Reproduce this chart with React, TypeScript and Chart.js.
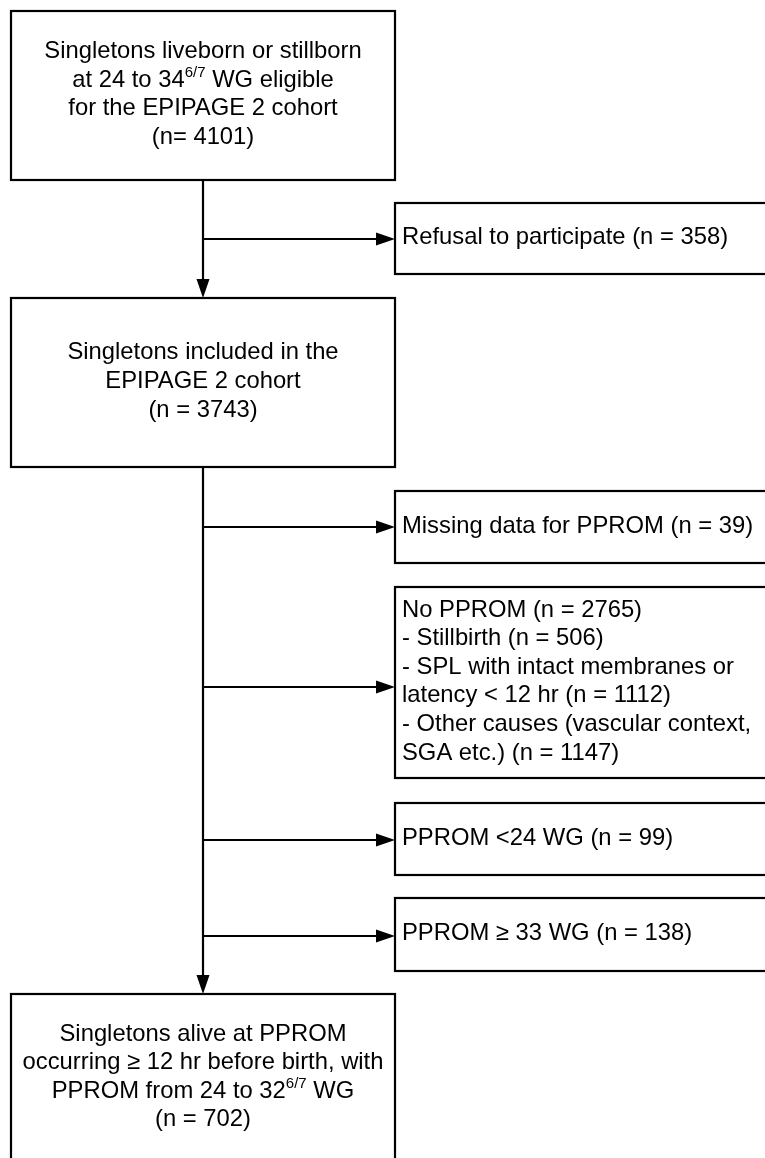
import React, { useEffect, useRef } from "react";
import { Chart, registerables } from "chart.js";

Chart.register(...registerables);

// Flowchart content (text lines per box; ^{..} marks superscript)
const BOX_TEXT: string[][] = [
  ["Singletons liveborn or stillborn", "at 24 to 34^{6/7} WG eligible", "for the EPIPAGE 2 cohort", "(n= 4101)"],
  ["Refusal to participate (n = 358)"],
  ["Singletons included in the", "EPIPAGE 2 cohort", "(n = 3743)"],
  ["Missing data for PPROM (n = 39)"],
  [
    "No PPROM (n = 2765)",
    "- Stillbirth (n = 506)",
    "- SPL with intact membranes or",
    "latency < 12 hr (n = 1112)",
    "- Other causes (vascular context,",
    "SGA etc.) (n = 1147)",
  ],
  ["PPROM <24 WG (n = 99)"],
  ["PPROM \u2265 33 WG (n = 138)"],
  ["Singletons alive at PPROM", "occurring \u2265 12 hr before birth, with", "PPROM from 24 to 32^{6/7} WG", "(n = 702)"],
];
const BOX_ALIGN = ["center", "left", "center", "left", "left", "left", "left", "center"];
// box extents in chart units (x: 0..765, y: 0..1158 top-down)
const BOX_LEFT = [11, 395, 11, 395, 395, 395, 395, 11];
const BOX_RIGHT = [395, 780, 395, 780, 780, 780, 780, 395];
const BOX_TOP = [11, 203, 298, 491, 587, 803, 898, 994];
const BOX_BOTTOM = [180, 274, 467, 563, 778, 875, 971, 1162];

// connectors
const TRUNK_X = 203;
const TRUNK_SEGMENTS: [number, number][] = [
  [180, 298],
  [467, 994],
];
const BRANCH_Y = [239, 527, 687, 840, 936];
const BRANCH_END_X = 395;

const FONT = "'Liberation Sans', Arial, sans-serif";

function parseSegments(line: string) {
  const segs: { t: string; sup: boolean }[] = [];
  const re = /\^\{([^}]*)\}/g;
  let last = 0;
  let m: RegExpExecArray | null;
  while ((m = re.exec(line))) {
    if (m.index > last) segs.push({ t: line.slice(last, m.index), sup: false });
    segs.push({ t: m[1], sup: true });
    last = m.index + m[0].length;
  }
  if (last < line.length) segs.push({ t: line.slice(last), sup: false });
  return segs;
}

const flowPlugin = {
  id: "flow",
  afterDatasetsDraw(chart: any) {
    const { ctx, scales } = chart;
    const xs = scales.x;
    const ys = scales.y;
    ctx.save();
    ctx.strokeStyle = "#000";
    ctx.lineWidth = 2.2;
    ctx.fillStyle = "#000";
    ctx.textBaseline = "middle";
    const mainSize = 23.8;
    const supSize = 15;
    const lh = 28.6;
    for (let i = 0; i < BOX_TEXT.length; i++) {
      const l = xs.getPixelForValue(BOX_LEFT[i]);
      const r = xs.getPixelForValue(BOX_RIGHT[i]);
      const t = ys.getPixelForValue(BOX_TOP[i]);
      const b = ys.getPixelForValue(BOX_BOTTOM[i]);
      ctx.strokeRect(l, t, r - l, b - t);
      const lines = BOX_TEXT[i];
      const cy = (t + b) / 2 - 1;
      const startY = cy - ((lines.length - 1) * lh) / 2;
      lines.forEach((line, k) => {
        const segs = parseSegments(line);
        let w = 0;
        segs.forEach((s) => {
          ctx.font = `${s.sup ? supSize : mainSize}px ${FONT}`;
          w += ctx.measureText(s.t).width;
        });
        let x = BOX_ALIGN[i] === "center" ? (l + r) / 2 - w / 2 : l + 7;
        const y = startY + k * lh;
        ctx.textAlign = "left";
        segs.forEach((s) => {
          ctx.font = `${s.sup ? supSize : mainSize}px ${FONT}`;
          ctx.fillText(s.t, x, s.sup ? y - 7 : y);
          x += ctx.measureText(s.t).width;
        });
      });
    }
    // arrowheads
    const len = 19;
    const hw = 6.5;
    const tx = xs.getPixelForValue(TRUNK_X);
    TRUNK_SEGMENTS.forEach(([, y2]) => {
      const py = ys.getPixelForValue(y2);
      ctx.beginPath();
      ctx.moveTo(tx, py);
      ctx.lineTo(tx - hw, py - len);
      ctx.lineTo(tx + hw, py - len);
      ctx.closePath();
      ctx.fill();
    });
    const ex = xs.getPixelForValue(BRANCH_END_X);
    BRANCH_Y.forEach((by) => {
      const py = ys.getPixelForValue(by);
      ctx.beginPath();
      ctx.moveTo(ex, py);
      ctx.lineTo(ex - len, py - hw);
      ctx.lineTo(ex - len, py + hw);
      ctx.closePath();
      ctx.fill();
    });
    ctx.restore();
  },
};

export default function App() {
  const ref = useRef<HTMLCanvasElement | null>(null);
  useEffect(() => {
    document.body.style.margin = "0";
    const datasets: any[] = [];
    TRUNK_SEGMENTS.forEach(([y1, y2]) => {
      datasets.push({
        data: [
          { x: TRUNK_X, y: y1 },
          { x: TRUNK_X, y: y2 - 10 },
        ],
      });
    });
    BRANCH_Y.forEach((by) => {
      datasets.push({
        data: [
          { x: TRUNK_X, y: by },
          { x: BRANCH_END_X - 10, y: by },
        ],
      });
    });
    datasets.forEach((d) => {
      d.showLine = true;
      d.borderColor = "#000";
      d.borderWidth = 2.2;
      d.pointRadius = 0;
      d.fill = false;
    });
    const chart = new Chart(ref.current!, {
      type: "scatter",
      data: { datasets },
      options: {
        animation: false,
        responsive: false,
        layout: { padding: 0 },
        plugins: { legend: { display: false }, tooltip: { enabled: false } },
        scales: {
          x: { type: "linear", min: 0, max: 765, display: false },
          y: { type: "linear", min: 0, max: 1158, reverse: true, display: false },
        },
      },
      plugins: [flowPlugin],
    });
    return () => chart.destroy();
  }, []);
  return (
    <div style={{ width: 765, height: 1158, background: "#fff" }}>
      <canvas ref={ref} width={765} height={1158} style={{ display: "block" }} />
    </div>
  );
}
